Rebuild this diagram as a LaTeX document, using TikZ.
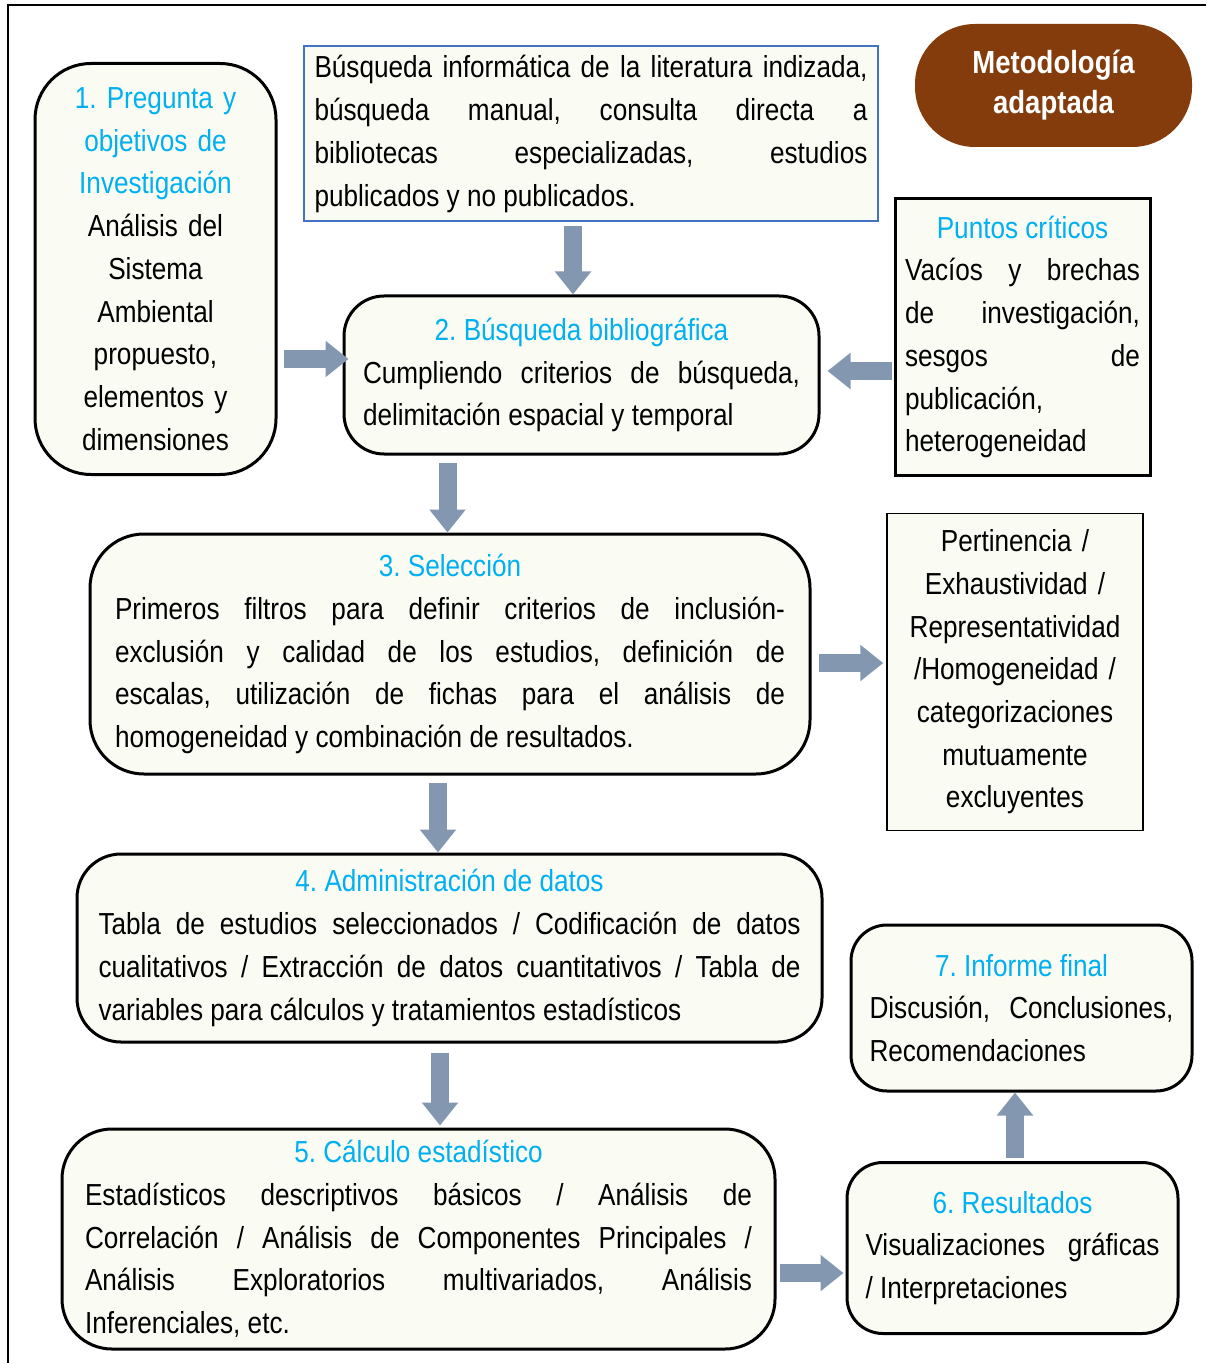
\documentclass[tikz,border=0pt]{standalone}
\usepackage{fontspec}
\setmainfont{Liberation Sans}[FakeStretch=0.86]
\usetikzlibrary{arrows.meta, positioning, calc}
\definecolor{titleblue}{RGB}{0, 176, 240}
\definecolor{boxcream}{RGB}{250, 251, 243}
\definecolor{arrowgray}{RGB}{132, 151, 176}
\definecolor{methbrown}{RGB}{132, 60, 12}
\definecolor{searchblue}{RGB}{68, 114, 196}
\setlength{\parindent}{0pt}
\frenchspacing
\hyphenpenalty=10000
\tolerance=10000

\tikzset{
  body/.style={font=\fontsize{15.2}{21.35}\selectfont, inner sep=0pt, fill=boxcream},
  stagebox/.style={body, draw, line width=1.5pt, rounded corners=20pt, align=justify},
  notebox/.style={body, draw, align=justify},
  flowarrow/.style={draw=arrowgray, line width=9pt, -{Triangle[length=11.5pt, width=17.5pt]}}
}

\begin{document}
\begin{tikzpicture}[x=0.5pt, y=-0.5pt]
  \useasboundingbox (0,0) rectangle (1206,1363);

  % Frame
  \draw[line width=1pt] (8,1363) -- (8,5) -- (1206,5);

  % Title
  \node[fill=methbrown, rounded corners=30pt, minimum width=138.5pt, minimum height=61.5pt, text=white, align=center, font=\bfseries\fontsize{16}{20}\selectfont] (meta) at (1053.5,85.5) {Metodología\\adaptada};

  % Sources and critical points
  \node[notebox, draw=searchblue, line width=1pt, text width=276.5pt, minimum width=287pt, minimum height=87.5pt] (srch) at (591,134) {
    Búsqueda informática de la literatura indizada,\linebreak
    búsqueda manual, consulta directa a\linebreak
    bibliotecas especializadas, estudios\linebreak
    publicados y no publicados.
  };
  \node[notebox, line width=1.5pt, text width=117.5pt, minimum width=127.5pt, minimum height=138pt] (crit) at (1022.5,337) {
    \centerline{\textcolor{titleblue}{Puntos críticos}}\par
    Vacíos y brechas\linebreak
    de investigación,\linebreak
    sesgos de\linebreak
    publicación,\linebreak
    heterogeneidad
  };

  % Stages
  \node[stagebox, align=center, rounded corners=28pt, text width=112pt, minimum width=120.5pt, minimum height=205.5pt] (preg) at (155.5,269) {
    \textcolor{titleblue}{1. Pregunta y}\\\textcolor{titleblue}{objetivos de}\\\textcolor{titleblue}{Investigación}\\
    Análisis del\\Sistema\\Ambiental\\propuesto,\\elementos y\\dimensiones
  };
  \node[stagebox, text width=218.5pt, minimum width=237.5pt, minimum height=79pt] (busq) at (581.5,375) {
    \centerline{\textcolor{titleblue}{2. Búsqueda bibliográfica}}\par
    Cumpliendo criterios de búsqueda,\linebreak
    delimitación espacial y temporal
  };
  \node[stagebox, rounded corners=27pt, text width=335pt, minimum width=360pt, minimum height=120pt] (sel) at (450,654) {
    \centerline{\textcolor{titleblue}{3. Selección}}\par
    Primeros filtros para definir criterios de inclusión-\linebreak
    exclusión y calidad de los estudios, definición de\linebreak
    escalas, utilización de fichas para el análisis de\linebreak
    homogeneidad y combinación de resultados.
  };
  \node[notebox, line width=0.75pt, align=center, text width=120pt, minimum width=128pt, minimum height=158.5pt] (pert) at (1015,672) {
    Pertinencia /\\Exhaustividad /\\Representatividad\\/Homogeneidad /\\categorizaciones\\mutuamente\\excluyentes
  };
  \node[stagebox, rounded corners=22pt, text width=351pt, minimum width=372.5pt, minimum height=94pt] (adm) at (449.5,948) {
    \centerline{\textcolor{titleblue}{4. Administración de datos}}\par
    Tabla de estudios seleccionados / Codificación de datos\linebreak
    cualitativos / Extracción de datos cuantitativos / Tabla de\linebreak
    variables para cálculos y tratamientos estadísticos
  };
  \node[stagebox, rounded corners=25pt, text width=333.5pt, minimum width=356.5pt, minimum height=110pt] (est) at (418.5,1239) {
    \centerline{\textcolor{titleblue}{5. Cálculo estadístico}}\par
    Estadísticos descriptivos básicos / Análisis de\linebreak
    Correlación / Análisis de Componentes Principales /\linebreak
    Análisis Exploratorios multivariados, Análisis\linebreak
    Inferenciales, etc.
  };
  \node[stagebox, rounded corners=18pt, text width=147pt, minimum width=165.5pt, minimum height=85.5pt] (res) at (1012.5,1248) {
    \centerline{\textcolor{titleblue}{6. Resultados}}\par
    Visualizaciones gráficas\linebreak
    / Interpretaciones
  };
  \node[stagebox, rounded corners=18pt, text width=152pt, minimum width=170.5pt, minimum height=83pt] (inf) at (1021.5,1008) {
    \centerline{\textcolor{titleblue}{7. Informe final}}\par
    Discusión, Conclusiones,\linebreak
    Recomendaciones
  };

  % Arrows
  \coordinate (s2) at ([xshift=-9pt]srch.south);
  \draw[flowarrow, shorten <=2pt] (s2) -- (s2 |- busq.north);
  \coordinate (b2w) at ([yshift=8pt]busq.west);
  \draw[flowarrow, shorten <=3pt, shorten >=-3pt] (preg.east |- b2w) -- (b2w);
  \coordinate (b2e) at ([yshift=2pt]busq.east);
  \draw[flowarrow, shorten <=1pt, shorten >=3.5pt] (crit.west |- b2e) -- (b2e);
  \coordinate (b2s) at ([xshift=-67pt]busq.south);
  \draw[flowarrow, shorten <=3.5pt] (b2s) -- (b2s |- sel.north);
  \coordinate (b3e) at ([yshift=-4.5pt]sel.east);
  \draw[flowarrow, shorten <=3.5pt, shorten >=1.5pt] (b3e) -- (b3e -| pert.west);
  \coordinate (b3s) at ([xshift=-6pt]sel.south);
  \draw[flowarrow, shorten <=3.5pt] (b3s) -- (b3s |- adm.north);
  \coordinate (b4s) at ([xshift=-4.75pt]adm.south);
  \draw[flowarrow, shorten <=4.5pt, shorten >=1pt] (b4s) -- (b4s |- est.north);
  \coordinate (b5e) at ([yshift=-17pt]est.east);
  \draw[flowarrow, shorten <=1.5pt, shorten >=1pt] (b5e) -- (b5e -| res.west);
  \coordinate (b6n) at ([xshift=1.25pt]res.north);
  \draw[flowarrow, shorten <=1.5pt] (b6n) -- (b6n |- inf.south);
\end{tikzpicture}
\end{document}
